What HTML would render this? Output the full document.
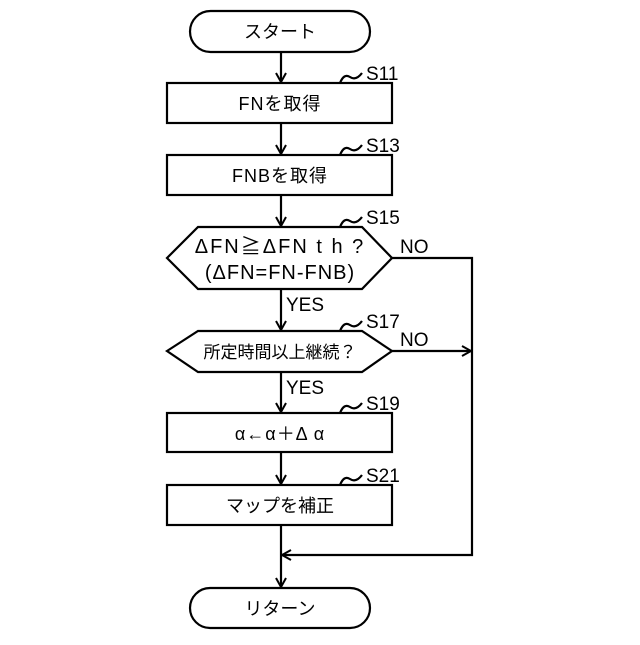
<!DOCTYPE html>
<html><head><meta charset="utf-8"><style>body{margin:0;background:#fff}</style></head><body>
<svg width="640" height="640" viewBox="0 0 640 640" xmlns="http://www.w3.org/2000/svg" font-family="'Liberation Sans','Noto Sans CJK JP',sans-serif">
<defs><marker id="a" markerWidth="12" markerHeight="12" refX="10" refY="6" orient="auto" markerUnits="userSpaceOnUse"><path d="M1,1 L10,6 L1,11" fill="none" stroke="#000" stroke-width="2"/></marker></defs>
<g fill="none" stroke="#000" stroke-width="2.2">
<rect x="190" y="11" width="180" height="41" rx="20.5"/>
<rect x="167" y="83" width="225" height="40"/>
<rect x="167" y="155" width="225" height="40"/>
<polygon points="167,258 198,227 362,227 392,258 362,289 198,289"/>
<polygon points="167,351 198,331 362,331 392,351 362,372 198,372"/>
<rect x="167" y="413" width="225" height="39"/>
<rect x="167" y="485" width="225" height="40"/>
<rect x="190" y="588" width="180" height="40" rx="20"/>
<line x1="281" y1="52" x2="281" y2="82" marker-end="url(#a)"/>
<line x1="281" y1="123" x2="281" y2="154" marker-end="url(#a)"/>
<line x1="281" y1="195" x2="281" y2="226" marker-end="url(#a)"/>
<line x1="281" y1="289" x2="281" y2="330" marker-end="url(#a)"/>
<line x1="281" y1="372" x2="281" y2="412" marker-end="url(#a)"/>
<line x1="281" y1="452" x2="281" y2="484" marker-end="url(#a)"/>
<line x1="281" y1="525" x2="281" y2="587" marker-end="url(#a)"/>
<polyline points="392,258 472,258 472,555 282,555" marker-end="url(#a)"/>
<line x1="392" y1="351" x2="471" y2="351" marker-end="url(#a)"/>
<path d="M340,83 q4,-10 10,-6 q6,4 12,-4"/>
<path d="M340,155 q4,-10 10,-6 q6,4 12,-4"/>
<path d="M340,227 q4,-10 10,-6 q6,4 12,-4"/>
<path d="M340,331 q4,-10 10,-6 q6,4 12,-4"/>
<path d="M340,413 q4,-10 10,-6 q6,4 12,-4"/>
<path d="M340,485 q4,-10 10,-6 q6,4 12,-4"/>
</g>
<g font-size="18" fill="#000" text-anchor="middle">
<text x="280" y="38">スタート</text>
<text x="280" y="110" letter-spacing="1">FNを取得</text>
<text x="280" y="182" letter-spacing="1">FNBを取得</text>
<text x="280" y="253" font-size="20" letter-spacing="2">ΔFN≧ΔFN t h ?</text>
<text x="280" y="279" font-size="20" letter-spacing="1">(ΔFN=FN-FNB)</text>
<text x="280" y="358" font-size="17">所定時間以上継続？</text>
<text x="280" y="440" letter-spacing="1">α←α＋Δ α</text>
<text x="280" y="512">マップを補正</text>
<text x="280" y="615">リターン</text>
</g>
<g font-size="19" fill="#000">
<text x="366" y="80">S11</text>
<text x="366" y="152">S13</text>
<text x="366" y="224">S15</text>
<text x="366" y="328">S17</text>
<text x="366" y="410">S19</text>
<text x="366" y="482">S21</text>
<text x="400" y="253">NO</text>
<text x="400" y="346">NO</text>
<text x="286" y="311">YES</text>
<text x="286" y="394">YES</text>
</g>
</svg>
</body></html>
